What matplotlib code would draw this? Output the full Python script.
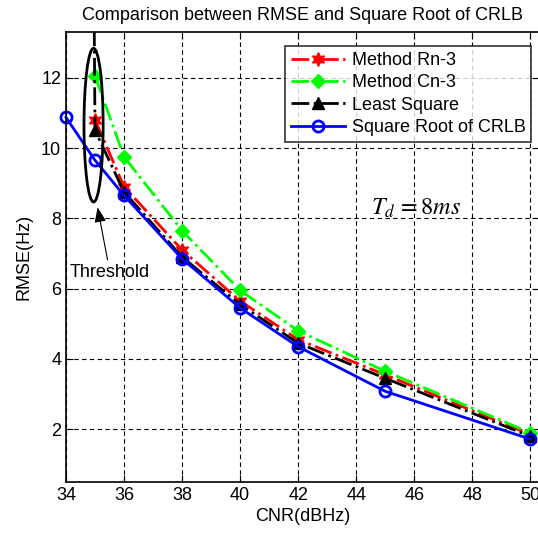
import matplotlib

matplotlib.use("Agg")
import matplotlib.pyplot as plt
from matplotlib.patches import Ellipse

plt.rcParams["font.family"] = ["Liberation Sans", "DejaVu Sans"]

# CNR (dBHz)
cnr_crlb = [34, 35, 36, 38, 40, 42, 45, 50]
cnr_ls = [34, 35, 36, 38, 40, 42, 45, 50]
cnr = [35, 36, 38, 40, 42, 45, 50]

rmse_rn3 = [10.8, 8.9, 7.1, 5.65, 4.55, 3.55, 1.85]
rmse_cn3 = [12.05, 9.75, 7.65, 5.95, 4.8, 3.65, 1.9]
rmse_ls = [120.0, 10.5, 8.75, 6.9, 5.55, 4.45, 3.45, 1.8]
crlb_sqrt = [10.87, 9.65, 8.65, 6.85, 5.45, 4.35, 3.08, 1.72]

fig = plt.figure(figsize=(5.38, 5.39), dpi=100)
ax = fig.add_axes([66 / 538, 57 / 539, 473 / 538, 450 / 539])

ax.plot(cnr, rmse_rn3, color="red", linestyle="-.", linewidth=2,
        marker=(6, 1, 0), markersize=10, label="Method Rn-3")
ax.plot(cnr, rmse_cn3, color="#00ff00", linestyle="-.", linewidth=2,
        marker="D", markersize=7, label="Method Cn-3")
ax.plot(cnr_ls, rmse_ls, color="black", linestyle="-.", linewidth=2,
        marker="^", markersize=8, label="Least Square")
ax.plot(cnr_crlb, crlb_sqrt, color="blue", linestyle="-", linewidth=2,
        marker="o", markersize=8, markerfacecolor="none", markeredgewidth=2,
        label="Square Root of CRLB", clip_on=False)

ax.set_xlim(34, 50.3)
ax.set_ylim(0.5, 13.3)
ax.set_xticks(range(34, 51, 2))
ax.set_yticks([2, 4, 6, 8, 10, 12])
ax.grid(True, color="black", linestyle=(0, (4, 3)), linewidth=0.8)
ax.tick_params(direction="in", top=True, right=True, labelsize=13, length=5)
for s in ax.spines.values():
    s.set_linewidth(1.2)

ax.set_xlabel("CNR(dBHz)", fontsize=13, labelpad=3)
ax.set_ylabel("RMSE(Hz)", fontsize=13, labelpad=6)
ax.set_title("Comparison between RMSE and Square Root of CRLB", fontsize=13, pad=9)

ax.add_patch(Ellipse((34.95, 10.65), 0.66, 4.37, fill=False,
                     edgecolor="black", linewidth=2, zorder=5))
ax.annotate("", xy=(35.07, 8.39), xytext=(35.45, 6.74),
            arrowprops=dict(arrowstyle="-|>,head_length=0.9,head_width=0.35",
                            color="black", linewidth=0.8))
ax.text(34.14, 6.45, "Threshold", fontsize=13, va="center", ha="left")
ax.text(44.5, 8.29, r"$T_d\,=8ms$", fontsize=17.5, va="center", ha="left",
        math_fontfamily="stix")

leg = ax.legend(loc="upper right", bbox_to_anchor=(0.995, 0.98), fontsize=13,
                frameon=True, fancybox=False, edgecolor="black",
                handlelength=3.0, borderpad=0.3, labelspacing=0.3,
                handletextpad=0.4, borderaxespad=0.3)
leg.get_frame().set_linewidth(1.2)

fig.savefig("out.png", dpi=100)
